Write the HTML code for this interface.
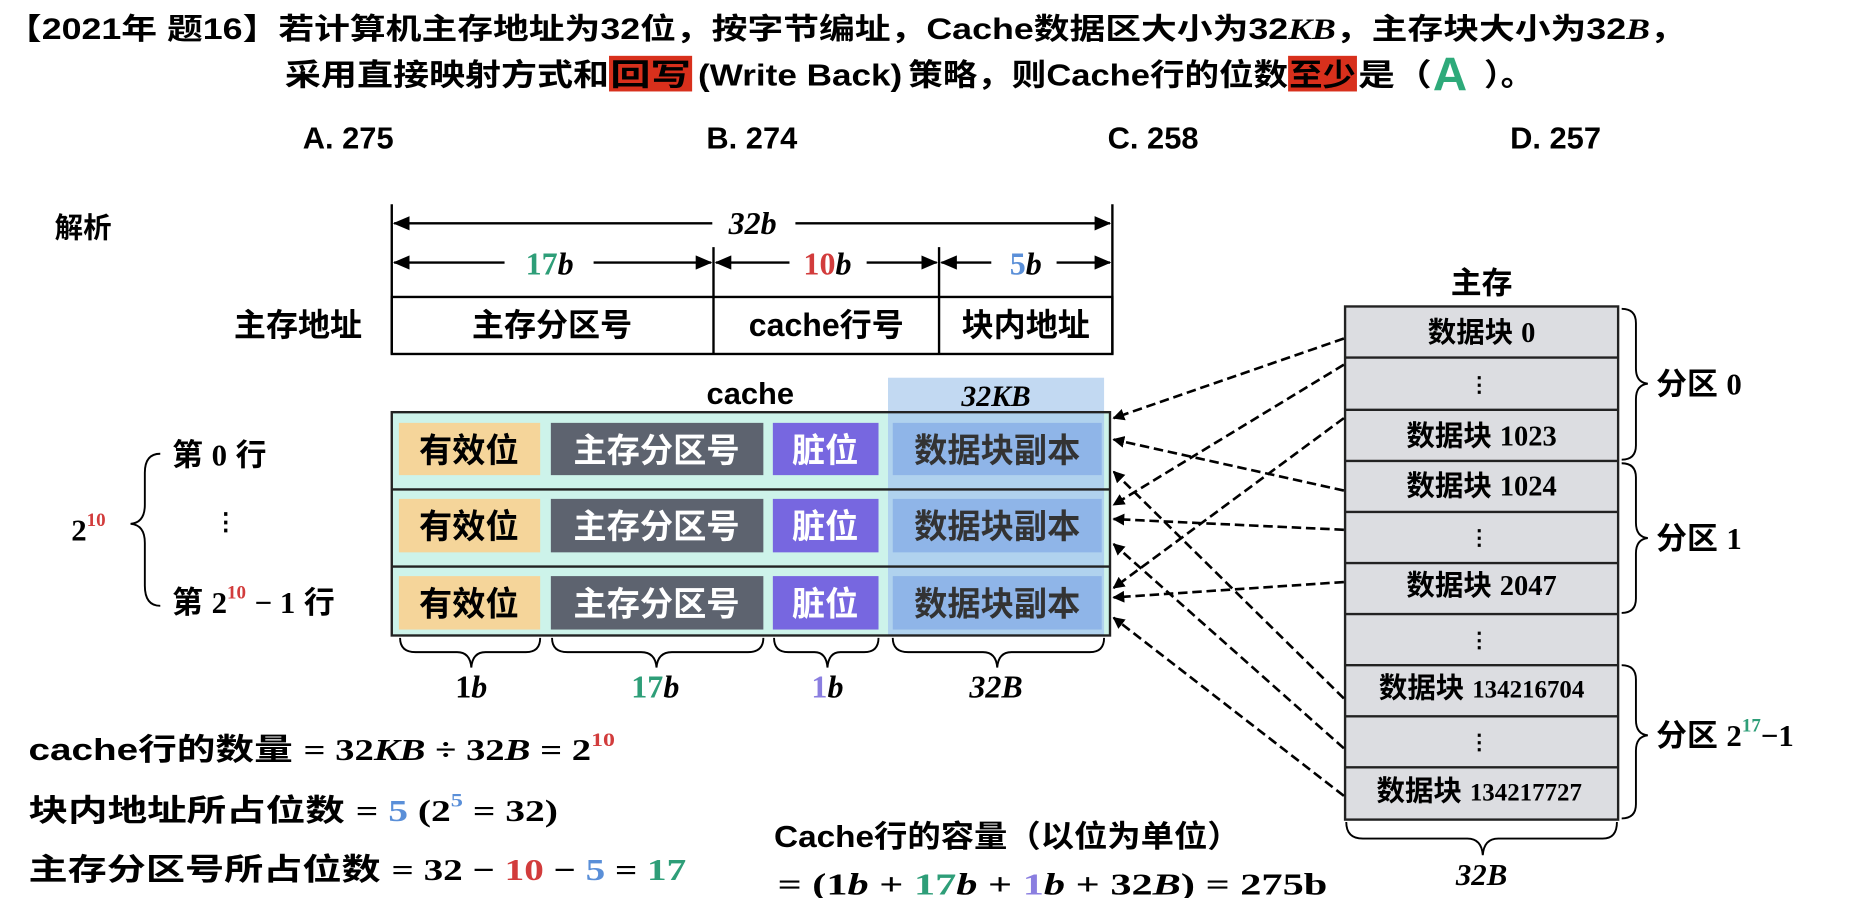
<!DOCTYPE html>
<html><head><meta charset="utf-8"><style>
html,body{margin:0;padding:0;background:#fff;width:1852px;height:898px;overflow:hidden}
svg text{font-family:"Liberation Sans","Noto Sans CJK SC",sans-serif;font-weight:bold}
svg text.m,svg tspan.m{font-family:"Liberation Serif","Noto Serif CJK SC",serif;font-weight:bold}
.i{font-style:italic}
</style></head><body>
<svg width="1852" height="898" viewBox="0 0 1560 756" preserveAspectRatio="none" xmlns="http://www.w3.org/2000/svg">
<defs>
<marker id="ah" markerWidth="10" markerHeight="10" refX="9" refY="5" orient="auto" markerUnits="userSpaceOnUse"><path d="M0,0 L10,5 L0,10 Z" fill="#000"/></marker>
<marker id="ah2" markerWidth="14" markerHeight="12" refX="13" refY="6" orient="auto" markerUnits="userSpaceOnUse"><path d="M0,0 L14,6 L0,12 Z" fill="#000"/></marker>
</defs>
<!-- title -->
<text x="5" y="33" font-size="25" textLength="1415" lengthAdjust="spacingAndGlyphs">【2021年 题16】若计算机主存地址为32位，按字节编址，Cache数据区大小为32<tspan class="m i">KB</tspan>，主存块大小为32<tspan class="m i">B</tspan>，</text>
<rect x="513" y="47" width="70" height="30" fill="#d8301c"/>
<rect x="1085" y="47" width="58" height="30" fill="#d8301c"/>
<g font-size="26">
<text x="240" y="72" textLength="273" lengthAdjust="spacingAndGlyphs">采用直接映射方式和</text>
<text x="514" y="72" textLength="68" lengthAdjust="spacingAndGlyphs">回写</text>
<text x="588" y="72" textLength="172" lengthAdjust="spacingAndGlyphs" font-weight="normal">(Write Back)</text>
<text x="765" y="72" textLength="320" lengthAdjust="spacingAndGlyphs">策略，则Cache行的位数</text>
<text x="1086" y="72" textLength="56" lengthAdjust="spacingAndGlyphs">至少</text>
<text x="1144" y="72" textLength="62" lengthAdjust="spacingAndGlyphs">是（</text>
<text x="1207" y="76" font-size="40" fill="#2eaa7a">A</text>
<text x="1250" y="72" textLength="42" lengthAdjust="spacingAndGlyphs">）。</text>
</g>
<text y="125" font-size="26"><tspan x="255">A. 275</tspan><tspan x="595">B. 274</tspan><tspan x="933">C. 258</tspan><tspan x="1272">D. 257</tspan></text>
<text x="46" y="200" font-size="24">解析</text>
<!-- top address table -->
<g stroke="#000" stroke-width="2" fill="none">
<line x1="330" y1="172" x2="330" y2="298"/><line x1="937" y1="172" x2="937" y2="298"/>
<line x1="601" y1="208" x2="601" y2="298"/><line x1="791" y1="208" x2="791" y2="298"/>
<rect x="330" y="250" width="607" height="48"/>
<line x1="600" y1="188" x2="332" y2="188" marker-end="url(#ah2)"/><line x1="670" y1="188" x2="935" y2="188" marker-end="url(#ah2)"/>
<line x1="425" y1="221" x2="332" y2="221" marker-end="url(#ah2)"/><line x1="500" y1="221" x2="599" y2="221" marker-end="url(#ah2)"/>
<line x1="665" y1="221" x2="603" y2="221" marker-end="url(#ah2)"/><line x1="730" y1="221" x2="789" y2="221" marker-end="url(#ah2)"/>
<line x1="835" y1="221" x2="793" y2="221" marker-end="url(#ah2)"/><line x1="890" y1="221" x2="935" y2="221" marker-end="url(#ah2)"/>
</g>
<text x="634" y="197" font-size="27" text-anchor="middle" class="m i">32b</text>
<text x="463" y="231" font-size="27" text-anchor="middle" class="m"><tspan fill="#2e9e78">17</tspan><tspan class="i">b</tspan></text>
<text x="697" y="231" font-size="27" text-anchor="middle" class="m"><tspan fill="#d23c3c">10</tspan><tspan class="i">b</tspan></text>
<text x="864" y="231" font-size="27" text-anchor="middle" class="m"><tspan fill="#5a8fd8">5</tspan><tspan class="i">b</tspan></text>
<text x="251" y="283" font-size="27" text-anchor="middle">主存地址</text>
<text x="465" y="283" font-size="27" text-anchor="middle">主存分区号</text>
<text x="696" y="283" font-size="27" text-anchor="middle">cache行号</text>
<text x="864" y="283" font-size="27" text-anchor="middle">块内地址</text>
<!-- cache -->
<text x="632" y="340" font-size="26" text-anchor="middle">cache</text>
<rect x="748" y="318" width="182" height="30" fill="#c2d9f2"/>
<text x="839" y="342" font-size="25" text-anchor="middle" class="m i">32KB</text>
<rect x="330" y="347" width="605" height="188" fill="#cdf3ea"/>
<rect x="748" y="347" width="182" height="188" fill="#a9c9ef" opacity="0.8"/>
<g>
<rect x="336" y="356" width="119" height="44" fill="#f5d59a"/><rect x="464" y="356" width="179" height="44" fill="#5d636f"/><rect x="651" y="356" width="89" height="44" fill="#7767e0"/><rect x="752" y="356" width="176" height="44" fill="#8fb5e8"/>
<rect x="336" y="420" width="119" height="45" fill="#f5d59a"/><rect x="464" y="420" width="179" height="45" fill="#5d636f"/><rect x="651" y="420" width="89" height="45" fill="#7767e0"/><rect x="752" y="420" width="176" height="45" fill="#8fb5e8"/>
<rect x="336" y="485" width="119" height="45" fill="#f5d59a"/><rect x="464" y="485" width="179" height="45" fill="#5d636f"/><rect x="651" y="485" width="89" height="45" fill="#7767e0"/><rect x="752" y="485" width="176" height="45" fill="#8fb5e8"/>
</g>
<g stroke="#222" stroke-width="2" fill="none">
<rect x="330" y="347" width="605" height="188"/><line x1="330" y1="412" x2="935" y2="412"/><line x1="330" y1="477" x2="935" y2="477"/>
</g>
<g font-size="28" text-anchor="middle">
<text x="395" y="389">有效位</text><text x="553" y="389" fill="#fff">主存分区号</text><text x="695" y="389" fill="#fff">脏位</text><text x="840" y="389" fill="#333">数据块副本</text>
<text x="395" y="453">有效位</text><text x="553" y="453" fill="#fff">主存分区号</text><text x="695" y="453" fill="#fff">脏位</text><text x="840" y="453" fill="#333">数据块副本</text>
<text x="395" y="518">有效位</text><text x="553" y="518" fill="#fff">主存分区号</text><text x="695" y="518" fill="#fff">脏位</text><text x="840" y="518" fill="#333">数据块副本</text>
</g>
<!-- braces under cache -->
<g stroke="#000" stroke-width="1.6" fill="none">
<path d="M337,537 Q337,549 350,549 L385,549 Q396,549 397,562 Q398,549 409,549 L443,549 Q455,549 455,537"/>
<path d="M465,537 Q465,549 478,549 L540,549 Q552,549 553,562 Q554,549 566,549 L630,549 Q643,549 643,537"/>
<path d="M652,537 Q652,549 664,549 L686,549 Q696,549 697,562 Q698,549 708,549 L728,549 Q740,549 740,537"/>
<path d="M752,537 Q752,549 765,549 L828,549 Q839,549 840,562 Q841,549 852,549 L918,549 Q930,549 930,537"/>
<path d="M135,382 Q122,382 122,398 L122,425 Q122,440 110,441 Q122,442 122,457 L122,493 Q122,510 135,510"/>
</g>
<text x="397" y="587" font-size="27" text-anchor="middle" class="m">1<tspan class="i">b</tspan></text>
<text x="552" y="587" font-size="27" text-anchor="middle" class="m"><tspan fill="#2e9e78">17</tspan><tspan class="i">b</tspan></text>
<text x="697" y="587" font-size="27" text-anchor="middle" class="m"><tspan fill="#8a7ee0">1</tspan><tspan class="i">b</tspan></text>
<text x="839" y="587" font-size="27" text-anchor="middle" class="m i">32B</text>
<text x="145" y="392" font-size="26">第 <tspan class="m">0</tspan> 行</text>
<text x="190" y="446" font-size="20" text-anchor="middle">⋮</text>
<text x="145" y="516" font-size="26">第 <tspan class="m">2</tspan><tspan class="m" font-size="16" dy="-12" fill="#d23c3c">10</tspan><tspan dy="12"> </tspan><tspan class="m">− 1</tspan> 行</text>
<text x="60" y="455" font-size="26" class="m">2<tspan font-size="16" dy="-12" fill="#d23c3c">10</tspan></text>
<!-- formulas -->
<g font-size="26">
<text x="24" y="640" textLength="494" lengthAdjust="spacingAndGlyphs">cache行的数量 <tspan class="m">= 32<tspan class="i">KB</tspan> ÷ 32<tspan class="i">B</tspan> = 2</tspan><tspan class="m" font-size="16" dy="-12" fill="#d23c3c">10</tspan></text>
<text x="24" y="691" textLength="446" lengthAdjust="spacingAndGlyphs">块内地址所占位数 <tspan class="m">= <tspan fill="#5a8fd8">5</tspan> (2</tspan><tspan class="m" font-size="16" dy="-12" fill="#5a8fd8">5</tspan><tspan class="m" dy="12"> = 32)</tspan></text>
<text x="24" y="741" textLength="554" lengthAdjust="spacingAndGlyphs">主存分区号所占位数 <tspan class="m">= 32 − <tspan fill="#d23c3c">10</tspan> − <tspan fill="#5a8fd8">5</tspan> = <tspan fill="#2e9e78">17</tspan></tspan></text>
<text x="652" y="713" textLength="393" lengthAdjust="spacingAndGlyphs">Cache行的容量（以位为单位）</text>
<text x="655" y="753" class="m" textLength="463" lengthAdjust="spacingAndGlyphs">= (1<tspan class="i">b</tspan> + <tspan fill="#2e9e78">17</tspan><tspan class="i">b</tspan> + <tspan fill="#8a7ee0">1</tspan><tspan class="i">b</tspan> + 32<tspan class="i">B</tspan>) = 275b</text>
</g>
<!-- main memory -->
<text x="1248" y="247" font-size="26" text-anchor="middle">主存</text>
<rect x="1133" y="258" width="230" height="432" fill="#dcdde1" stroke="#222" stroke-width="2"/>
<g stroke="#222" stroke-width="2">
<line x1="1133" y1="301" x2="1363" y2="301"/><line x1="1133" y1="345" x2="1363" y2="345"/><line x1="1133" y1="388" x2="1363" y2="388"/><line x1="1133" y1="431" x2="1363" y2="431"/><line x1="1133" y1="474" x2="1363" y2="474"/><line x1="1133" y1="517" x2="1363" y2="517"/><line x1="1133" y1="560" x2="1363" y2="560"/><line x1="1133" y1="603" x2="1363" y2="603"/><line x1="1133" y1="646" x2="1363" y2="646"/>
</g>
<g font-size="24" text-anchor="middle">
<text x="1248" y="288">数据块 <tspan class="m">0</tspan></text>
<text x="1246" y="330" font-size="18">⋮</text>
<text x="1248" y="375">数据块 <tspan class="m">1023</tspan></text>
<text x="1248" y="417">数据块 <tspan class="m">1024</tspan></text>
<text x="1246" y="459" font-size="18">⋮</text>
<text x="1248" y="501">数据块 <tspan class="m">2047</tspan></text>
<text x="1246" y="545" font-size="18">⋮</text>
<text x="1248" y="587">数据块 <tspan class="m" font-size="21">134216704</tspan></text>
<text x="1246" y="631" font-size="18">⋮</text>
<text x="1246" y="674">数据块 <tspan class="m" font-size="21">134217727</tspan></text>
</g>
<g stroke="#000" stroke-width="1.6" fill="none">
<path d="M1366,260 Q1378,260 1378,272 L1378,310 Q1378,322 1388,323 Q1378,324 1378,336 L1378,375 Q1378,387 1366,387"/>
<path d="M1366,390 Q1378,390 1378,402 L1378,440 Q1378,452 1388,453 Q1378,454 1378,466 L1378,504 Q1378,516 1366,516"/>
<path d="M1366,560 Q1378,560 1378,572 L1378,606 Q1378,618 1388,619 Q1378,620 1378,632 L1378,677 Q1378,689 1366,689"/>
<path d="M1134,692 Q1134,706 1148,706 L1236,706 Q1248,706 1249,720 Q1250,706 1262,706 L1350,706 Q1362,706 1362,692"/>
</g>
<g font-size="26">
<text x="1395" y="332">分区 <tspan class="m">0</tspan></text>
<text x="1395" y="462">分区 <tspan class="m">1</tspan></text>
<text x="1395" y="628">分区 <tspan class="m">2</tspan><tspan class="m" font-size="16" dy="-12" fill="#2e9e78">17</tspan><tspan class="m" dy="12">−1</tspan></text>
</g>
<text x="1248" y="745" font-size="26" text-anchor="middle" class="m i">32B</text>
<!-- dashed arrows -->
<g stroke="#000" stroke-width="2.2" stroke-dasharray="8,4" fill="none" marker-end="url(#ah)">
<line x1="1132" y1="285" x2="938" y2="352"/>
<line x1="1132" y1="307" x2="938" y2="425"/>
<line x1="1132" y1="352" x2="938" y2="495"/>
<line x1="1132" y1="413" x2="938" y2="370"/>
<line x1="1132" y1="446" x2="938" y2="437"/>
<line x1="1132" y1="490" x2="938" y2="503"/>
<line x1="1132" y1="588" x2="938" y2="397"/>
<line x1="1132" y1="630" x2="938" y2="458"/>
<line x1="1132" y1="670" x2="938" y2="520"/>
</g>
</svg>
</body></html>
